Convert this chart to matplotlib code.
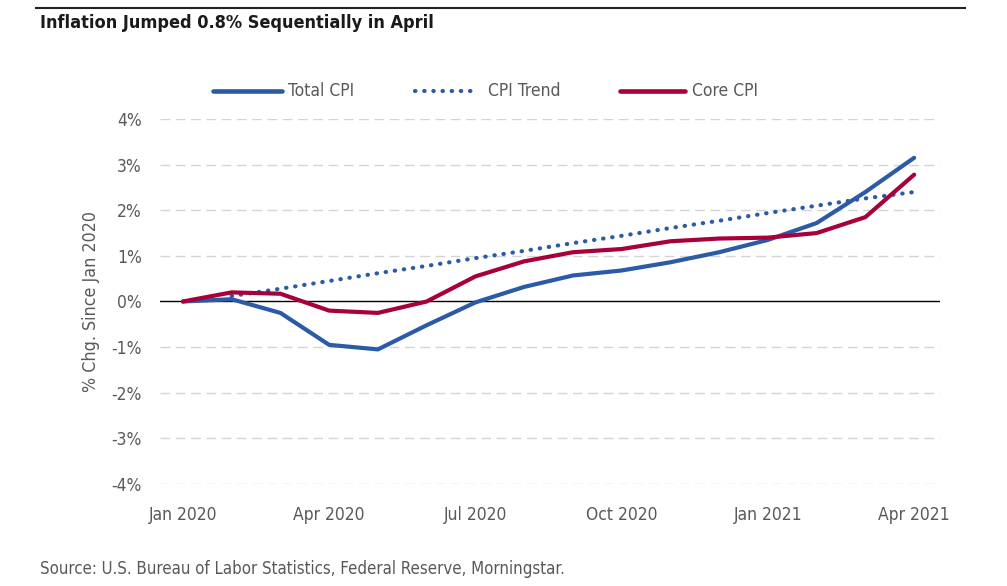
import matplotlib
matplotlib.use("Agg")
import matplotlib.pyplot as plt
from matplotlib import font_manager
import matplotlib.lines as mlines

names = {f.name for f in font_manager.fontManager.ttflist}
FONT = "Liberation Sans Narrow" if "Liberation Sans Narrow" in names else "DejaVu Sans"
plt.rcParams['font.family'] = [FONT, 'DejaVu Sans']
plt.rcParams['font.stretch'] = 'condensed'

months = ["Jan 2020", "Feb 2020", "Mar 2020", "Apr 2020", "May 2020", "Jun 2020", "Jul 2020",
          "Aug 2020", "Sep 2020", "Oct 2020", "Nov 2020", "Dec 2020", "Jan 2021", "Feb 2021",
          "Mar 2021", "Apr 2021"]
total_cpi = [0.0, 0.05, -0.25, -0.95, -1.05, -0.52, -0.02, 0.32, 0.57, 0.68, 0.86, 1.08,
             1.35, 1.72, 2.40, 3.15]
core_cpi = [0.0, 0.20, 0.17, -0.20, -0.25, 0.0, 0.55, 0.88, 1.08, 1.15, 1.32, 1.38,
            1.40, 1.50, 1.85, 2.78]
trend_months = months[1:]
cpi_trend = [0.12, 0.28, 0.45, 0.62, 0.78, 0.95, 1.11, 1.28, 1.44, 1.61, 1.77, 1.94,
             2.10, 2.26, 2.40]
xtick_labels = ["Jan 2020", "Apr 2020", "Jul 2020", "Oct 2020", "Jan 2021", "Apr 2021"]
ytick_vals = [-4, -3, -2, -1, 0, 1, 2, 3, 4]
legend_labels = ["Total CPI", "CPI Trend", "Core CPI"]

BLUE = "#2B5BA6"
RED = "#A8003C"
GRAY = "#595959"
W, H = 1007, 586

fig = plt.figure(figsize=(10.07, 5.86), dpi=100)
ax = fig.add_axes([160/W, 1-484/H, (940-160)/W, (484-119)/H])

xi = {m: i for i, m in enumerate(months)}
ax.plot([xi[m] for m in months], total_cpi, color=BLUE, lw=3.0, solid_capstyle='round', zorder=4)
ax.plot([xi[m] for m in trend_months], cpi_trend, color=BLUE, lw=3.0, linestyle=(0, (0.1, 2.1)),
        dash_capstyle='round', zorder=3)
ax.plot([xi[m] for m in months], core_cpi, color=RED, lw=3.0, solid_capstyle='round', zorder=5)

ax.axhline(0, color="black", lw=1.0, zorder=2)
for v in ytick_vals:
    if v != 0:
        ax.axhline(v, color="#d4d4d4", lw=1.0, linestyle=(0, (7, 4)), zorder=1)

ax.set_xlim(-0.47, 15.53)
ax.set_ylim(-4, 4)
ax.set_xticks([xi[m] for m in xtick_labels])
ax.set_xticklabels(xtick_labels)
ax.set_yticks(ytick_vals)
ax.set_yticklabels([f"{v}%" for v in ytick_vals])
ax.tick_params(length=0, labelsize=12.5, colors=GRAY)
ax.tick_params(axis='x', pad=16)
ax.tick_params(axis='y', pad=13)
for s in ax.spines.values():
    s.set_visible(False)
ax.set_ylabel("% Chg. Since Jan 2020", fontsize=12.8, color=GRAY, labelpad=8)

fig.text(40/W, 1-23/H, "Inflation Jumped 0.8% Sequentially in April", fontsize=13,
         fontweight='bold', color="#1a1a1a", va='center', ha='left')
fig.add_artist(mlines.Line2D([36/W, 965/W], [1-8/H, 1-8/H], color="#222222", lw=1.5))
fig.text(40/W, 1-569/H, "Source: U.S. Bureau of Labor Statistics, Federal Reserve, Morningstar.",
         fontsize=12.1, color=GRAY, va='center', ha='left')

# legend drawn in figure coordinates
ly = 1 - 91/H
leg = [((213, 282), dict(color=BLUE, lw=3.3, solid_capstyle='round'), 288),
       ((415, 477), dict(color=BLUE, lw=3.0, linestyle=(0, (0.1, 2.1)), dash_capstyle='round'), 488),
       ((620, 685), dict(color=RED, lw=3.3, solid_capstyle='round'), 692)]
for (x0, x1), style, tx in leg:
    fig.add_artist(mlines.Line2D([x0/W, x1/W], [ly, ly], **style))
for ((x0, x1), style, tx), lab in zip(leg, legend_labels):
    fig.text(tx/W, ly, lab, fontsize=12.5, color=GRAY, va='center', ha='left')

fig.savefig("out.png", dpi=100)
